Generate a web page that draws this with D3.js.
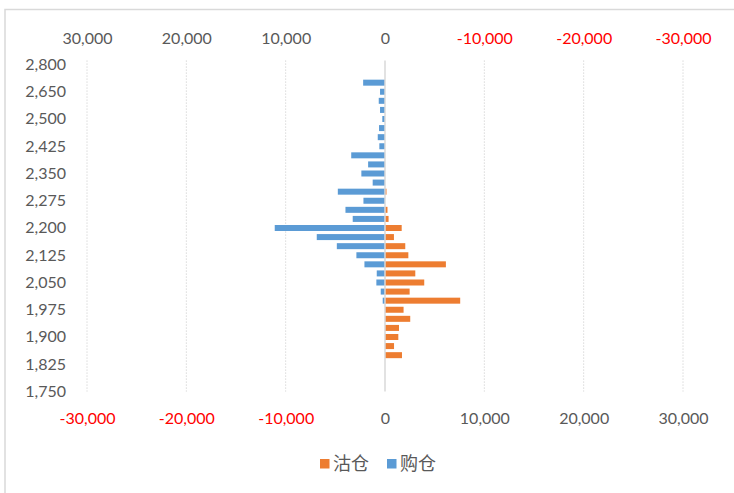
<!DOCTYPE html>
<html>
<head>
<meta charset="utf-8">
<script src="https://cdn.jsdelivr.net/npm/d3@7"></script>
<style>
  body { margin: 0; background: #fff; }
  svg { display: block; font-family: Lato, 'Liberation Sans', sans-serif; }
</style>
</head>
<body>
<div id="chart"></div>
<script>
// price levels, top to bottom (category axis)
const strikes = [2800, 2750, 2700, 2650, 2600, 2550, 2500, 2475, 2450, 2425, 2400, 2375, 2350,
  2325, 2300, 2275, 2250, 2225, 2200, 2175, 2150, 2125, 2100, 2075, 2050, 2025, 2000,
  1975, 1950, 1925, 1900, 1875, 1850, 1825, 1800, 1775, 1750];
// 购仓 (plotted to the left)
const callValues = [0, 0, -2200, -500, -630, -500, -270, -600, -730, -570, -3400, -1700, -2380,
  -1240, -4750, -2170, -3980, -3250, -11100, -6870, -4850, -2880, -2070, -830, -870, -430, -230,
  0, 0, 0, 0, 0, 0, 0, 0, 0, 0];
// 沽仓 (plotted to the right)
const putValues = [0, 0, 0, 0, 0, 0, 0, 0, 0, 0, 0, 0, 0,
  0, 150, 0, 250, 360, 1680, 900, 2040, 2350, 6130, 3050, 3950, 2480, 7570,
  1870, 2540, 1410, 1340, 910, 1710, 0, 0, 0, 0];
const xTicks = [-30000, -20000, -10000, 0, 10000, 20000, 30000];
const seriesNames = ['沽仓', '购仓'];
const seriesColors = ['#ED7D31', '#5B9BD5'];

const width = 734, height = 493;
const plotLeft = 87, plotRight = 683, plotTop = 64.5, plotBottom = 391.5;

const fmt = d3.formatLocale({ decimal: '.', thousands: ',', grouping: [3], currency: ['', ''], minus: '-' }).format(',');

const svg = d3.select('#chart').append('svg').attr('width', width).attr('height', height);

// chart area frame (right/bottom edges fall outside the picture)
svg.append('rect')
  .attr('x', 5).attr('y', 9.5).attr('width', 800).attr('height', 600)
  .attr('fill', 'none').attr('stroke', '#D9D9D9').attr('stroke-width', 1.5);

const x = d3.scaleLinear().domain([-30000, 30000]).range([plotLeft, plotRight]);
const xTop = d3.scaleLinear().domain([30000, -30000]).range([plotLeft, plotRight]);
const y = d3.scalePoint().domain(strikes).range([plotTop, plotBottom]);
const barH = 6;

// gridlines
svg.append('g').attr('class', 'grid')
  .selectAll('line')
  .data(xTicks.filter(d => d !== 0))
  .join('line')
  .attr('x1', d => x(d)).attr('x2', d => x(d))
  .attr('y1', plotTop - 4).attr('y2', plotBottom)
  .attr('stroke', '#D0D0D0').attr('stroke-width', 1).attr('stroke-dasharray', '1.2,1.8');

// bars
const rows = strikes.map((s, i) => ({ s, call: callValues[i], put: putValues[i] }));
svg.append('g').selectAll('rect.put')
  .data(rows.filter(d => d.put))
  .join('rect').attr('class', 'put')
  .attr('x', x(0)).attr('width', d => x(d.put) - x(0))
  .attr('y', d => y(d.s) - barH / 2).attr('height', barH)
  .attr('fill', seriesColors[0]);
svg.append('g').selectAll('rect.call')
  .data(rows.filter(d => d.call))
  .join('rect').attr('class', 'call')
  .attr('x', d => x(d.call)).attr('width', d => x(0) - x(d.call))
  .attr('y', d => y(d.s) - barH / 2).attr('height', barH)
  .attr('fill', seriesColors[1]);

// zero line (category axis)
svg.append('line')
  .attr('x1', x(0)).attr('x2', x(0)).attr('y1', plotTop - 4).attr('y2', plotBottom)
  .attr('stroke', '#D9D9D9').attr('stroke-width', 1.5);

// y axis labels, every third category
const yAxis = svg.append('g').attr('transform', 'translate(66,0)')
  .call(d3.axisLeft(y).tickSize(0).tickPadding(0)
    .tickValues(strikes.filter((d, i) => i % 3 === 0)).tickFormat(fmt));
yAxis.select('.domain').remove();
yAxis.selectAll('text').attr('dy', '0.3em').attr('font-size', 16).attr('fill', '#595959').attr('font-family', 'Lato, sans-serif');

// top axis (reversed)
const topAxis = svg.append('g').attr('transform', 'translate(0,38)')
  .call(d3.axisTop(xTop).tickValues(xTicks).tickSize(0).tickPadding(0).tickFormat(fmt));
topAxis.select('.domain').remove();
topAxis.selectAll('text').attr('dy', '0.35em').attr('font-size', 16).attr('font-family', 'Lato, sans-serif')
  .attr('fill', d => d < 0 ? '#FF0000' : '#595959');

// bottom axis
const bottomAxis = svg.append('g').attr('transform', 'translate(0,418)')
  .call(d3.axisBottom(x).tickValues(xTicks).tickSize(0).tickPadding(0).tickFormat(fmt));
bottomAxis.select('.domain').remove();
bottomAxis.selectAll('text').attr('dy', '0.35em').attr('font-size', 16).attr('font-family', 'Lato, sans-serif')
  .attr('fill', d => d < 0 ? '#FF0000' : '#595959');

// legend
const legend = svg.append('g').attr('transform', 'translate(320,459)');
const items = legend.selectAll('g').data(seriesNames).join('g')
  .attr('transform', (d, i) => `translate(${i * 67},0)`);
items.append('rect').attr('width', 9.5).attr('height', 9.5).attr('fill', (d, i) => seriesColors[i]);
items.append('text').attr('x', 13).attr('y', 5).attr('dy', '0.36em')
  .attr('font-size', 18).attr('font-family', "'Noto Sans CJK SC', sans-serif")
  .attr('fill', '#595959').text(d => d);
</script>
</body>
</html>
